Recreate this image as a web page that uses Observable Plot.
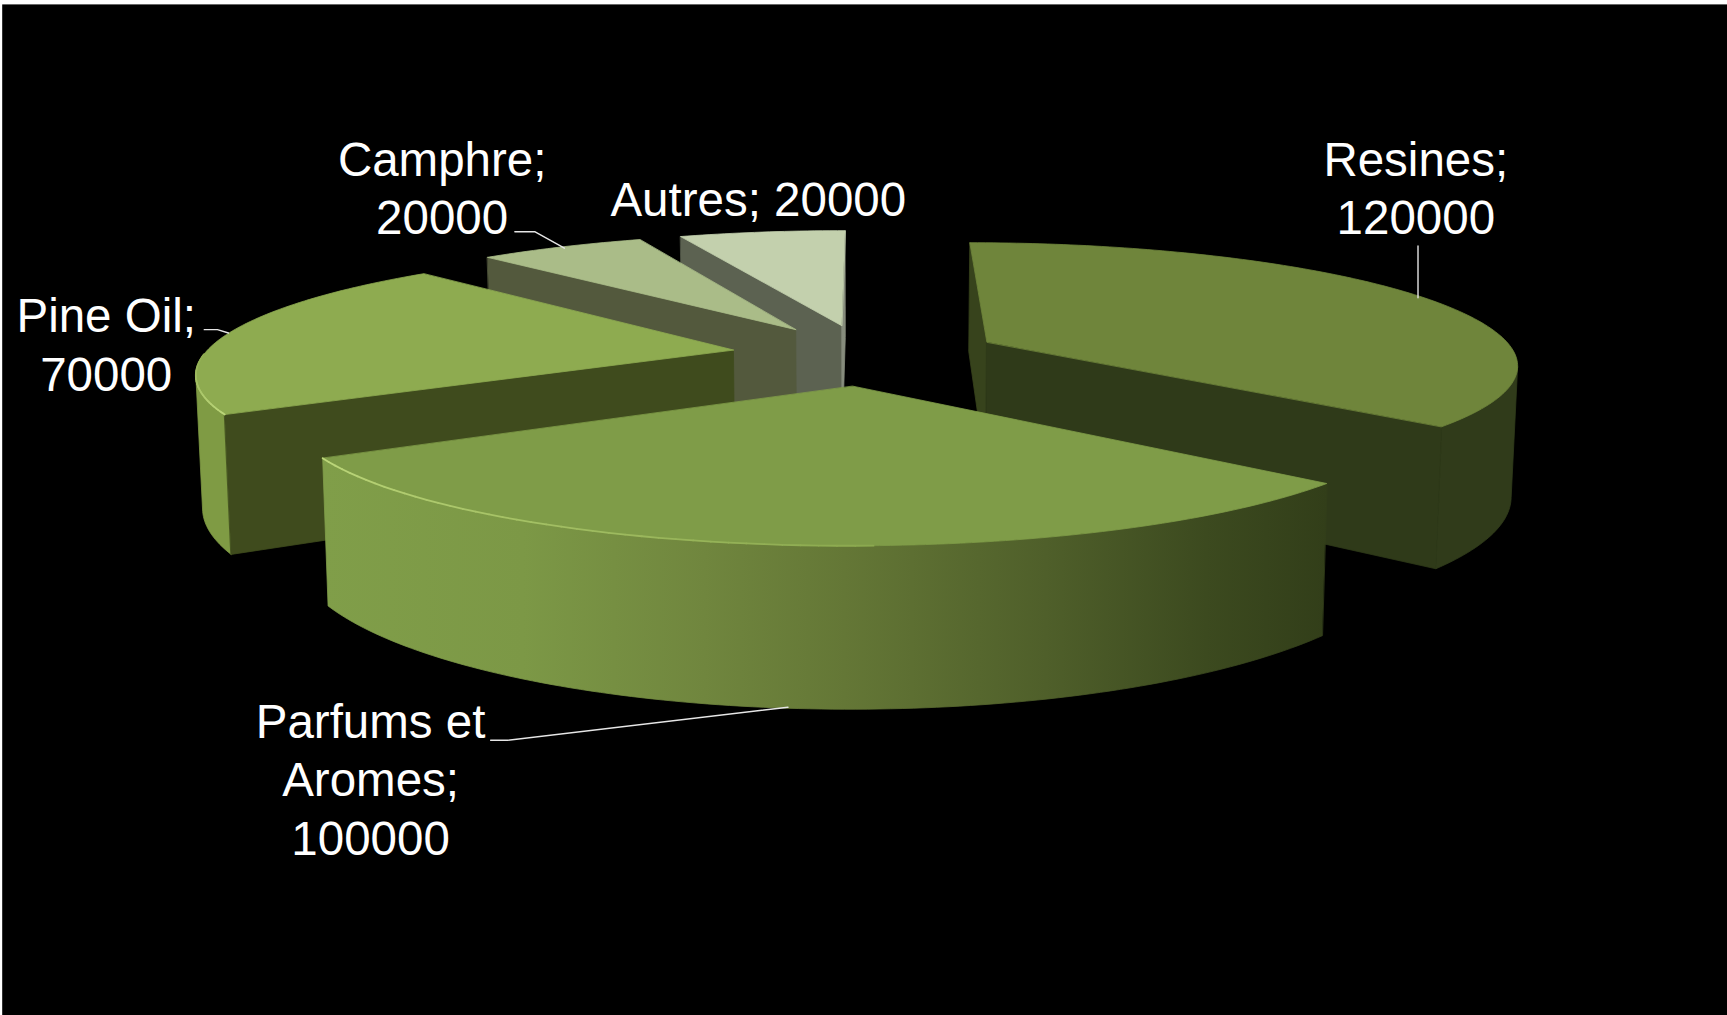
<!DOCTYPE html>
<html>
<head>
<meta charset="utf-8">
<script src="https://cdn.jsdelivr.net/npm/d3@7"></script>
<script src="https://cdn.jsdelivr.net/npm/@observablehq/plot@0.6"></script>
<style>
html,body{margin:0;padding:0;background:#fff;overflow:hidden}
svg{display:block}
</style>
</head>
<body>
<div id="chart"></div>
<script>
// ---- data ----
const categories = ["Resines", "Parfums et Aromes", "Pine Oil", "Camphre", "Autres"];
const values = [120000, 100000, 70000, 20000, 20000];
const labels = ["Resines;\n120000", "Parfums et\nAromes;\n100000", "Pine Oil;\n70000", "Camphre;\n20000", "Autres; 20000"];

// ---- styles, one per category ----
const topColors = ["#6f853b", "#7f9c48", "#8eab50", "#aabc88", "#c3d0ad"];
const startWallColors = ["#37431c", "#5f7030", "#3f4b1d", "#53593d", "#5c6251"];
const endWallColors = ["#2f3a19", "#5f7030", "#3f4b1d", "#53593d", "#868c7c"];
const outerColors = ["#303b1a", "url(#parfumsWall)", "#7f9b44", "#70765f", "#70765f"];
const parfumsStops = [[0, "#809e49"], [0.2, "#7c9846"], [0.38, "#70863e"], [0.52, "#647736"], [0.72, "#4f5f2a"], [0.88, "#3c4a1f"], [1, "#323e19"]];
const drawOrder = [4, 3, 0, 2, 1];

// ---- layout: perspective camera and label placement, in picture units ----
const W = 1568, H = 922;
const cam = {cx: 786, horizon: -329.5, t0: 651, k: 0.167, m: 0.738, explode: 0.255, depth: 0.18, taper: 0.99};
const radii = [1, 1.008, 1, 1, 1];
const labelSpots = [[1285, 169], [336, 706], [96, 311], [401, 169], [688, 179]];
const leaders = [
  [[1287, 223], [1287, 270]],
  [[445, 672], [460, 672], [715, 642]],
  [[185, 299], [197, 299], [207, 302]],
  [[467, 210], [485, 210], [512, 225]]
];

// ---- geometry from the values ----
function project(X, Y, low) {
  const t = cam.t0 / (1 + cam.k * Y);
  let x = cam.cx + cam.m * X * t, y = cam.horizon + t;
  if (low) { x = cam.cx + (x - cam.cx) * cam.taper; y += cam.depth * t; }
  return {x, y};
}
const total = d3.sum(values);
const rad = Math.PI / 180;
let acc = 0;
const slices = values.map((v, i) => {
  const a0 = acc; acc += v / total * 360;
  const a1 = acc, mid = (a0 + a1) / 2 * rad;
  return {i, a0, a1, r: radii[i], ox: cam.explode * Math.sin(mid), oy: cam.explode * Math.cos(mid)};
});
const rim = (s, a, low) => project(s.ox + s.r * Math.sin(a * rad), s.oy + s.r * Math.cos(a * rad), low);
const hub = (s, low) => project(s.ox, s.oy, low);
function area(p) {
  return d3.sum(p, (q, j) => { const n = p[(j + 1) % p.length]; return q.x * n.y - n.x * q.y; });
}
const rows = [], glow = [];
let pid = 0;
const push = (pts, c) => { const id = pid++; pts.forEach(q => rows.push({id, x: q.x, y: q.y, c})); };

for (const idx of drawOrder) {
  const s = slices[idx];
  const n = Math.ceil((s.a1 - s.a0) / 1);
  const angles = d3.range(n + 1).map(j => s.a0 + (s.a1 - s.a0) * j / n);
  // outer curved wall: only the part that faces the viewer
  const seen = [];
  for (let j = 0; j < n; j++) {
    const a = angles[j], b = angles[j + 1];
    if (area([rim(s, a), rim(s, b), rim(s, b, true), rim(s, a, true)]) < 0) {
      if (!seen.length) seen.push(a);
      seen.push(b);
    }
  }
  if (seen.length) {
    push([...seen.map(a => rim(s, a)), ...seen.slice().reverse().map(a => rim(s, a, true))], outerColors[idx]);
  }
  // flat cut walls
  const w0 = [rim(s, s.a0), hub(s), hub(s, true), rim(s, s.a0, true)];
  if (area(w0) > 0) push(w0, startWallColors[idx]);
  const w1 = [hub(s), rim(s, s.a1), rim(s, s.a1, true), hub(s, true)];
  if (area(w1) > 0) push(w1, endWallColors[idx]);
  // top face
  push([hub(s), ...angles.map(a => rim(s, a))], topColors[idx]);
}

// thin rim highlight on the two lit front edges
[[1, 240, 178, 2.0], [2, 240, 268, 1.6]].forEach(([idx, from, to, w], g) => {
  const s = slices[idx], n = 40;
  for (let j = 0; j < n; j++) {
    const a = from + (to - from) * j / n, b = from + (to - from) * (j + 1) / n;
    const p = rim(s, a), q = rim(s, b);
    const c = d3.interpolateRgb("#bcd77a", idx === 1 ? "#8aa84e" : "#8eab50")(j / n);
    const id = "g" + g + "-" + j;
    glow.push({id, x: p.x, y: p.y, c}, {id, x: q.x, y: q.y, c});
  }
});

const labelRows = labels.map((text, i) => ({text, x: labelSpots[i][0], y: labelSpots[i][1]}));
const leaderRows = leaders.flatMap((l, id) => l.map(([x, y]) => ({id, x, y})));

const chart = Plot.plot({
  width: 1727, height: 1015,
  margin: 0,
  style: {background: "#fff"},
  x: {axis: null, domain: [0, W], range: [0, 1727]},
  y: {axis: null, domain: [0, H], range: [0, 1015]},
  color: {type: "identity"},
  marks: [
    Plot.rect([{x1: 2, x2: W, y1: 4, y2: H}], {x1: "x1", x2: "x2", y1: "y1", y2: "y2", fill: "#000"}),
    Plot.line(rows, {x: "x", y: "y", z: "id", fill: "c", stroke: "c", strokeWidth: 0.8, curve: "linear-closed"}),
    Plot.line(glow, {x: "x", y: "y", z: "id", stroke: "c", strokeWidth: 1.8}),
    Plot.line(leaderRows, {x: "x", y: "y", z: "id", stroke: "#e6e6e6", strokeWidth: 1.4}),
    Plot.text(labelRows, {
      x: "x", y: "y", text: "text", fill: "#fff", fontSize: 47.5,
      fontFamily: "Liberation Sans", lineHeight: 1.23, textAnchor: "middle", lineAnchor: "middle"
    })
  ]
});
const grad = d3.select(chart).append("defs").append("linearGradient")
  .attr("id", "parfumsWall").attr("x1", 0).attr("x2", 1).attr("y1", 0).attr("y2", 0);
parfumsStops.forEach(([o, c]) => grad.append("stop").attr("offset", o).attr("stop-color", c));
document.getElementById("chart").append(chart);
</script>
</body>
</html>
